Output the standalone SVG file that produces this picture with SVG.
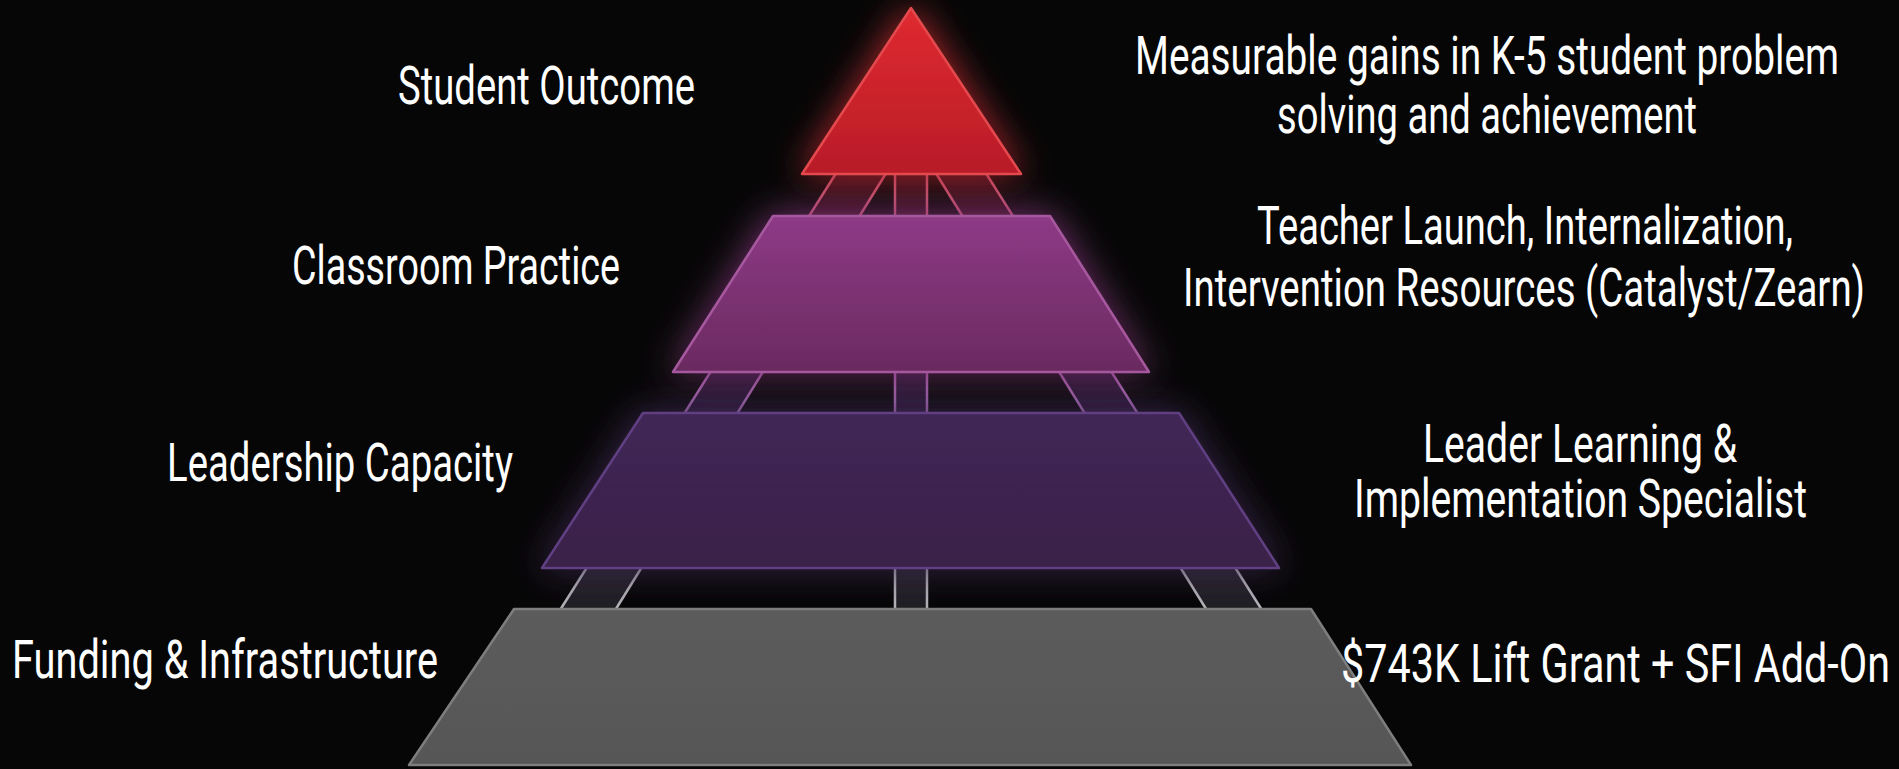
<svg xmlns="http://www.w3.org/2000/svg" width="1899" height="769" viewBox="0 0 1899 769">
<defs>
<style>
.lbl{font-family:Roboto,"Liberation Sans",sans-serif;font-size:53px;font-weight:400;fill:#ffffff;}
.pl{stroke:url(#lineGrad);stroke-width:2.5;fill:none;}
</style>
<linearGradient id="lineGrad" gradientUnits="userSpaceOnUse" x1="0" y1="174" x2="0" y2="609">
<stop offset="0" stop-color="#c8506a"/>
<stop offset="0.1" stop-color="#bc5270"/>
<stop offset="0.45" stop-color="#a65aa2"/>
<stop offset="0.55" stop-color="#9e6aac"/>
<stop offset="0.9" stop-color="#a8a8b0"/>
<stop offset="1" stop-color="#b4b4b8"/>
</linearGradient>
<linearGradient id="pillarGrad" gradientUnits="userSpaceOnUse" x1="0" y1="174" x2="0" y2="609">
<stop offset="0" stop-color="#3a0e18"/>
<stop offset="0.45" stop-color="#30163a"/>
<stop offset="0.55" stop-color="#2a1838"/>
<stop offset="1" stop-color="#26262a"/>
</linearGradient>
<linearGradient id="gRed" x1="0" y1="0" x2="0" y2="1">
<stop offset="0" stop-color="#e02a30"/>
<stop offset="1" stop-color="#b81c28"/>
</linearGradient>
<linearGradient id="gMag" x1="0" y1="0" x2="0" y2="1">
<stop offset="0" stop-color="#8e3a86"/>
<stop offset="1" stop-color="#6a2a60"/>
</linearGradient>
<linearGradient id="gPur" x1="0" y1="0" x2="0" y2="1">
<stop offset="0" stop-color="#402656"/>
<stop offset="1" stop-color="#3a2249"/>
</linearGradient>
<linearGradient id="gGray" x1="0" y1="0" x2="0" y2="1">
<stop offset="0" stop-color="#5c5c5c"/>
<stop offset="1" stop-color="#565656"/>
</linearGradient>
<filter id="glow" x="-30%" y="-40%" width="160%" height="180%">
<feGaussianBlur in="SourceGraphic" stdDeviation="18" result="b"/>
<feColorMatrix in="b" type="matrix" values="1 0 0 0 0  0 1 0 0 0  0 0 1 0 0  0 0 0 0.85 0" result="bb"/>
<feMerge><feMergeNode in="bb"/><feMergeNode in="SourceGraphic"/></feMerge>
</filter>
</defs>
<rect x="0" y="0" width="1899" height="769" fill="#060606"/>

<g id="connectors">
<polygon points="835.6,174 885.6,174 615.9,609 560.7,609" fill="url(#pillarGrad)" opacity="0.8"/>
<polygon points="895,174 927,174 927,609 895,609" fill="url(#pillarGrad)" opacity="0.8"/>
<polygon points="936.4,174 986.4,174 1261.3,609 1206.1,609" fill="url(#pillarGrad)" opacity="0.8"/>
<line class="pl" x1="835.6" y1="174" x2="560.7" y2="609"/>
<line class="pl" x1="885.6" y1="174" x2="615.9" y2="609"/>
<line class="pl" x1="895" y1="174" x2="895" y2="609"/>
<line class="pl" x1="927" y1="174" x2="927" y2="609"/>
<line class="pl" x1="936.4" y1="174" x2="1206.1" y2="609"/>
<line class="pl" x1="986.4" y1="174" x2="1261.3" y2="609"/>
</g>

<g id="tier-funding">
<polygon points="514,609 1311,609 1411,765 409,765" fill="url(#gGray)" stroke="#7e7e7e" stroke-width="2.5" stroke-linejoin="round"/>
<text class="lbl" x="12" y="678" textLength="426" lengthAdjust="spacingAndGlyphs">Funding &amp; Infrastructure</text>
<text class="lbl" x="1341" y="682" textLength="549" lengthAdjust="spacingAndGlyphs">$743K Lift Grant + SFI Add-On</text>
</g>

<g id="tier-leadership">
<polygon points="643,413 1179,413 1279,568 542,568" fill="url(#gPur)" stroke="#603f82" stroke-width="2.5" stroke-linejoin="round" filter="url(#glow)"/>
<text class="lbl" x="167" y="481" textLength="346" lengthAdjust="spacingAndGlyphs">Leadership Capacity</text>
<text class="lbl" x="1423" y="462" textLength="314" lengthAdjust="spacingAndGlyphs">Leader Learning &amp;</text>
<text class="lbl" x="1354" y="517" textLength="453" lengthAdjust="spacingAndGlyphs">Implementation Specialist</text>
</g>

<g id="tier-classroom">
<polygon points="773,216 1050,216 1149,372 673,372" fill="url(#gMag)" stroke="#a6589e" stroke-width="2.5" stroke-linejoin="round" filter="url(#glow)"/>
<text class="lbl" x="292" y="284" textLength="328" lengthAdjust="spacingAndGlyphs">Classroom Practice</text>
<text class="lbl" x="1257" y="244" textLength="536" lengthAdjust="spacingAndGlyphs">Teacher Launch, Internalization,</text>
<text class="lbl" x="1183" y="305.5" textLength="682" lengthAdjust="spacingAndGlyphs">Intervention Resources (Catalyst/Zearn)</text>
</g>

<g id="tier-outcome">
<polygon points="911,8 1021,174 802,174" fill="url(#gRed)" stroke="#e4484e" stroke-width="2.5" stroke-linejoin="round" filter="url(#glow)"/>
<text class="lbl" x="398" y="104" textLength="297" lengthAdjust="spacingAndGlyphs">Student Outcome</text>
<text class="lbl" x="1135" y="74" textLength="704" lengthAdjust="spacingAndGlyphs">Measurable gains in K-5 student problem</text>
<text class="lbl" x="1277" y="133" textLength="420" lengthAdjust="spacingAndGlyphs">solving and achievement</text>
</g>
</svg>
